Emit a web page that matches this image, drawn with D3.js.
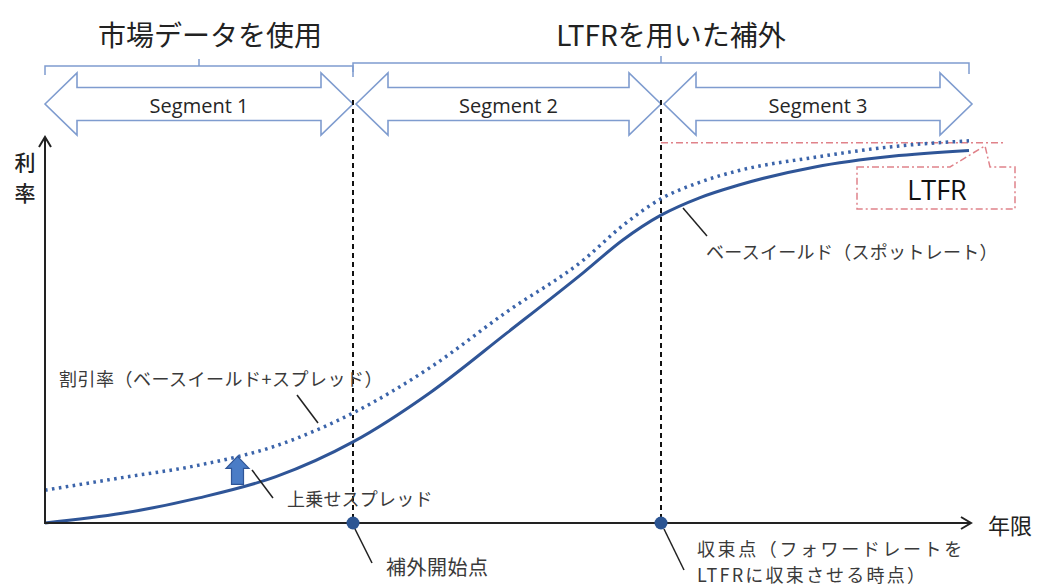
<!DOCTYPE html>
<html lang="ja">
<head>
<meta charset="utf-8">
<script src="https://cdn.jsdelivr.net/npm/d3@7"></script>
<style>
  html, body { margin: 0; padding: 0; background: #fff; }
  svg { display: block; }
  .jp { font-family: "Noto Sans CJK JP", "Noto Sans", sans-serif; }
  .lat { font-family: "Open Sans", "Noto Sans", sans-serif; }
</style>
</head>
<body>
<svg id="chart" width="1042" height="588"></svg>
<script>
// Maturity grid (years) and the two rate curves (%)
const maturities   = [0, 5, 10, 15, 20, 25, 30, 35, 37.5, 40, 42.5, 45, 50, 55, 60];
const baseYield    = [0, 0.10, 0.26, 0.48, 0.84, 1.35, 1.97, 2.60, 2.93, 3.19, 3.37, 3.50, 3.69, 3.80, 3.86];
const discountRate = [0.34, 0.47, 0.60, 0.80, 1.14, 1.61, 2.19, 2.73, 3.08, 3.36, 3.53, 3.65, 3.79, 3.90, 3.96];

const ltfr = 3.94;                 // long-term forward rate
const extrapolationStart = 20;     // end of market data
const convergencePoint = 40;       // forward rate converges to LTFR
const spreadArrowAt = 12.5;        // where the spread arrow is drawn

const segmentLabels = ["Segment 1", "Segment 2", "Segment 3"];
const segmentBounds = [0, 20, 40, 60];
const braceLabels = ["市場データを使用", "LTFRを用いた補外"];
const braceBounds = [[0, 20], [20, 60]];

const svg = d3.select("#chart");

const x = d3.scaleLinear().domain([0, 60]).range([45, 969]);
const y = d3.scaleLinear().domain([0, 4]).range([523, 137]);

const darkBlue = "#2f5597";
const lightBlue = "#7f9ccf";
const ink = "#222";
const gray = "#3a3a3a";

// ---- braces and headings ----
const braceY = [66, 63];
braceBounds.forEach((b, i) => {
  const x0 = x(b[0]), x1 = x(b[1]), yy = braceY[i], xm = (x0 + x1) / 2;
  const p = d3.path();
  p.moveTo(x0, yy + 9); p.lineTo(x0, yy); p.lineTo(x1, yy); p.lineTo(x1, yy + 11);
  p.moveTo(xm, yy); p.lineTo(xm, yy - 7);
  svg.append("path").attr("d", p.toString())
    .attr("fill", "none").attr("stroke", lightBlue).attr("stroke-width", 1.5);
  svg.append("text").attr("class", "jp")
    .attr("x", xm + (i === 0 ? 11 : 10)).attr("y", 34)
    .attr("text-anchor", "middle").attr("dominant-baseline", "central")
    .attr("font-size", 28).attr("fill", ink)
    .text(braceLabels[i]);
});

// ---- segment double arrows ----
const cy = 104, hh = 31, sh = 16.5, hl = 32;
segmentLabels.forEach((lab, i) => {
  const x0 = x(segmentBounds[i]) + (i === 0 ? 0 : 3);
  const x1 = x(segmentBounds[i + 1]) + (i === 2 ? 3 : 0);
  const pts = [
    [x0, cy], [x0 + hl, cy - hh], [x0 + hl, cy - sh], [x1 - hl, cy - sh], [x1 - hl, cy - hh],
    [x1, cy], [x1 - hl, cy + hh], [x1 - hl, cy + sh], [x0 + hl, cy + sh], [x0 + hl, cy + hh]
  ];
  svg.append("path").attr("d", d3.line()(pts) + "Z")
    .attr("fill", "#fff").attr("stroke", lightBlue).attr("stroke-width", 1.6)
    .attr("stroke-linejoin", "miter");
  svg.append("text").attr("class", "lat")
    .attr("x", (x0 + x1) / 2).attr("y", cy + 1)
    .attr("text-anchor", "middle").attr("dominant-baseline", "central")
    .attr("font-size", 20).attr("fill", "#262626")
    .text(lab);
});

// ---- vertical dashed markers ----
[extrapolationStart, convergencePoint].forEach(m => {
  svg.append("line")
    .attr("x1", x(m)).attr("x2", x(m)).attr("y1", 100).attr("y2", y(0))
    .attr("stroke", "#111").attr("stroke-width", 2).attr("stroke-dasharray", "5,4");
});

// ---- LTFR level and callout ----
const ltfrColor = "#e0828a";
svg.append("line")
  .attr("x1", x(convergencePoint)).attr("x2", x(60) + 35)
  .attr("y1", y(ltfr)).attr("y2", y(ltfr))
  .attr("stroke", ltfrColor).attr("stroke-width", 1.5).attr("stroke-dasharray", "7,3,2,3");

const cb = { x0: 857, x1: 1015, y0: 167, y1: 209 };
const callout = d3.path();
callout.moveTo(cb.x0, cb.y0);
callout.lineTo(950, cb.y0);
callout.lineTo(985, y(ltfr) + 3);
callout.lineTo(990, cb.y0);
callout.lineTo(cb.x1, cb.y0);
callout.lineTo(cb.x1, cb.y1);
callout.lineTo(cb.x0, cb.y1);
callout.closePath();
svg.append("path").attr("d", callout.toString())
  .attr("fill", "none").attr("stroke", ltfrColor).attr("stroke-width", 1.5)
  .attr("stroke-dasharray", "7,3,2,3");
svg.append("text").attr("class", "lat")
  .attr("x", 937).attr("y", (cb.y0 + cb.y1) / 2 + 1)
  .attr("text-anchor", "middle").attr("dominant-baseline", "central")
  .attr("font-size", 27).attr("fill", "#111")
  .text("LTFR");

// ---- curves ----
const line = d3.line().x(d => x(d[0])).y(d => y(d[1])).curve(d3.curveMonotoneX);

svg.append("path")
  .datum(maturities.map((m, i) => [m, discountRate[i]]))
  .attr("d", line)
  .attr("fill", "none").attr("stroke", "#3b64aa").attr("stroke-width", 3.5)
  .attr("stroke-dasharray", "2.6,4.4");

svg.append("path")
  .datum(maturities.map((m, i) => [m, baseYield[i]]))
  .attr("d", line)
  .attr("fill", "none").attr("stroke", darkBlue).attr("stroke-width", 3);

// ---- spread arrow ----
const interp = (arr, m) => {
  const i = d3.bisectRight(maturities, m) - 1;
  const t = (m - maturities[i]) / (maturities[i + 1] - maturities[i]);
  return arr[i] + t * (arr[i + 1] - arr[i]);
};
{
  const ax = x(spreadArrowAt);
  const yb = y(interp(baseYield, spreadArrowAt)) - 3;
  const yt = y(interp(discountRate, spreadArrowAt)) + 1;
  const headH = 12, headW = 11.5, shaftW = 6;
  const pts = [
    [ax, yt], [ax + headW, yt + headH], [ax + shaftW, yt + headH], [ax + shaftW, yb],
    [ax - shaftW, yb], [ax - shaftW, yt + headH], [ax - headW, yt + headH]
  ];
  svg.append("path").attr("d", d3.line()(pts) + "Z")
    .attr("fill", "#4a7cc6").attr("stroke", darkBlue).attr("stroke-width", 1.2);
}

// ---- axes ----
const axisColor = "#222";
svg.append("line").attr("x1", x(0)).attr("x2", x(0)).attr("y1", y(0) + 1).attr("y2", y(4))
  .attr("stroke", axisColor).attr("stroke-width", 2);
svg.append("path").attr("d", `M${x(0) - 6},${y(4) + 10}L${x(0)},${y(4)}L${x(0) + 6},${y(4) + 10}`)
  .attr("fill", "none").attr("stroke", axisColor).attr("stroke-width", 2);
svg.append("line").attr("x1", x(0)).attr("x2", x(60) + 2).attr("y1", y(0)).attr("y2", y(0))
  .attr("stroke", axisColor).attr("stroke-width", 2);
svg.append("path").attr("d", `M${x(60) - 8},${y(0) - 6}L${x(60) + 2},${y(0)}L${x(60) - 8},${y(0) + 6}`)
  .attr("fill", "none").attr("stroke", axisColor).attr("stroke-width", 2);

// vertical axis title, one character per row
["利", "率"].forEach((c, i) => {
  svg.append("text").attr("class", "jp")
    .attr("x", 25).attr("y", 161 + i * 31)
    .attr("text-anchor", "middle").attr("dominant-baseline", "central")
    .attr("font-size", 21).attr("font-weight", 500).attr("fill", ink).text(c);
});

svg.append("text").attr("class", "jp")
  .attr("x", 988).attr("y", 524)
  .attr("dominant-baseline", "central")
  .attr("font-size", 22).attr("fill", ink).text("年限");

// ---- key points on the maturity axis ----
[extrapolationStart, convergencePoint].forEach(m => {
  svg.append("circle").attr("cx", x(m)).attr("cy", y(0)).attr("r", 6.5)
    .attr("fill", "#2c5593");
});

// ---- annotations with leader lines ----
function leader(x1, y1, x2, y2) {
  svg.append("line").attr("x1", x1).attr("y1", y1).attr("x2", x2).attr("y2", y2)
    .attr("stroke", "#222").attr("stroke-width", 1.5);
}
function label(txt, tx, ty, size, spacing) {
  svg.append("text").attr("class", "jp")
    .attr("x", tx).attr("y", ty).attr("dominant-baseline", "central")
    .attr("font-size", size).attr("letter-spacing", spacing || 0)
    .attr("fill", gray).text(txt);
}

leader(683, 208, 707, 236);
label("ベースイールド（スポットレート）", 706, 251, 18, 0.3);

leader(297, 395, 318, 423);
label("割引率（ベースイールド+スプレッド）", 59, 378, 18, 0.5);

leader(252, 470, 273, 498);
label("上乗せスプレッド", 287, 498, 18, 0.2);

leader(x(extrapolationStart) + 2, y(0) + 6, 372, 563);
label("補外開始点", 386, 566, 20, 0.5);

leader(x(convergencePoint) + 3, y(0) + 6, 684, 570);
label("収束点（フォワードレートを", 697, 548, 18, 2.6);
label("LTFRに収束させる時点）", 697, 574, 18, 2.2);
</script>
</body>
</html>
